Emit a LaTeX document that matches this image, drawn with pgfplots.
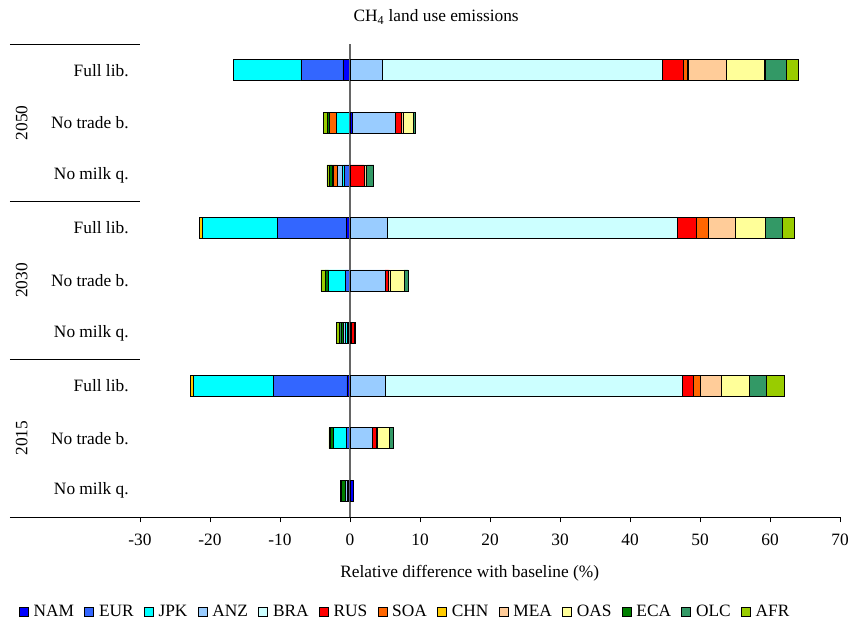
\documentclass[border=0pt]{standalone}
\usepackage{fontspec}
\setmainfont{Liberation Serif}
\usepackage{pgfplots}
\usepackage{pgfplotstable}
\pgfplotsset{compat=1.18}
\definecolor{cNAM}{HTML}{0000FF}
\definecolor{cEUR}{HTML}{3366FF}
\definecolor{cJPK}{HTML}{00FFFF}
\definecolor{cANZ}{HTML}{99CCFF}
\definecolor{cBRA}{HTML}{CCFFFF}
\definecolor{cRUS}{HTML}{FF0000}
\definecolor{cSOA}{HTML}{FF6600}
\definecolor{cCHN}{HTML}{FFCC00}
\definecolor{cMEA}{HTML}{FFCC99}
\definecolor{cOAS}{HTML}{FFFF99}
\definecolor{cECA}{HTML}{008000}
\definecolor{cOLC}{HTML}{339966}
\definecolor{cAFR}{HTML}{99CC00}

% rows: 1 = 2015 No milk q., 2 = 2015 No trade b., 3 = 2015 Full lib., 4..6 = 2030, 7..9 = 2050
\pgfplotstableread{
row NAM   EUR   JPK   ANZ  BRA  RUS SOA   CHN  MEA OAS ECA  OLC  AFR
1   0.5   -0.2  -0.2  -0.3 0    0   0     0    0   0   -0.5 -0.2 0
2   -0.05 -0.45 -1.9  3.2  0    0.5 0     0    0.2 1.7 -0.4 0.6  -0.2
3   -0.45 -10.5 -11.4 5.1  42.4 1.5 1.1   -0.4 2.9 4.1 0    2.4  2.6
4   -0.2  -0.2  -0.2  -0.3 0.2  0.4 0     0    0   0.2 -0.4 -0.2 -0.4
5   -0.05 -0.6  -2.4  5.0  0    0.5 0     0    0.2 2.0 -0.5 0.6  -0.6
6   -0.5  -9.9  -10.7 5.3  41.5 2.7 1.7   -0.4 3.9 4.2 0.1  2.4  1.7
7   -0.1  -0.7  -0.3  -0.7 0    2.0 -0.6  -0.1 0.3 0.1 -0.4 1.0  -0.4
8   0.3   0     -1.9  6.2  0    0.8 -1.05 0    0.3 1.5 -0.3 0.3  -0.5
9   -1.0  -6.0  -9.7  4.6  40.0 3.0 0.6   0.1  5.4 5.5 0.1  3.0  1.7
}\datatable

\pgfplotsset{
  base/.style={
    scale only axis, width=525pt, height=354.75pt,
    at={(0,0)}, anchor=south west,
    xmin=-30, xmax=70, ymin=0.5, ymax=9.5,
    xbar stacked, bar width=0.4, clip=false,
  },
  ser/.style={fill=#1, draw=black, line width=0.5pt},
}

\begin{document}
\begin{tikzpicture}[font=\fontsize{13}{15}\selectfont]
\useasboundingbox (-105pt,-79.5pt) rectangle (531.75pt,387.75pt);
\begin{axis}[base,
  axis x line*=bottom, axis y line*=left,
  y axis line style={draw=none},
  x axis line style={-, draw=black, line width=0.6pt},
  xtick={-30,-20,...,70}, xtick align=outside, major tick length=4pt,
  x tick style={black, line width=0.6pt},
  ytick={1,...,9},
  yticklabels={No milk q.,No trade b.,Full lib.,No milk q.,No trade b.,Full lib.,No milk q.,No trade b.,Full lib.},
  ytick style={draw=none},
  yticklabel style={xshift=-5pt},
  xticklabel style={yshift=-5pt},
  /pgf/number format/assume math mode=true,
  xlabel={Relative difference with baseline (\%)},
  xlabel style={at={(axis description cs:0.471,-0.118)}, anchor=center},
]
\addplot[ser=cNAM] table[y=row, x expr={min(\thisrow{NAM},0)}] {\datatable};
\addplot[ser=cEUR] table[y=row, x expr={min(\thisrow{EUR},0)}] {\datatable};
\addplot[ser=cJPK] table[y=row, x expr={min(\thisrow{JPK},0)}] {\datatable};
\addplot[ser=cANZ] table[y=row, x expr={min(\thisrow{ANZ},0)}] {\datatable};
\addplot[ser=cBRA] table[y=row, x expr={min(\thisrow{BRA},0)}] {\datatable};
\addplot[ser=cRUS] table[y=row, x expr={min(\thisrow{RUS},0)}] {\datatable};
\addplot[ser=cSOA] table[y=row, x expr={min(\thisrow{SOA},0)}] {\datatable};
\addplot[ser=cCHN] table[y=row, x expr={min(\thisrow{CHN},0)}] {\datatable};
\addplot[ser=cMEA] table[y=row, x expr={min(\thisrow{MEA},0)}] {\datatable};
\addplot[ser=cOAS] table[y=row, x expr={min(\thisrow{OAS},0)}] {\datatable};
\addplot[ser=cECA] table[y=row, x expr={min(\thisrow{ECA},0)}] {\datatable};
\addplot[ser=cOLC] table[y=row, x expr={min(\thisrow{OLC},0)}] {\datatable};
\addplot[ser=cAFR] table[y=row, x expr={min(\thisrow{AFR},0)}] {\datatable};
\draw[black, line width=0.6pt] (axis cs:-48.6,9.5) -- (axis cs:-30,9.5);
\draw[black, line width=0.6pt] (axis cs:-48.6,6.5) -- (axis cs:-30,6.5);
\draw[black, line width=0.6pt] (axis cs:-48.6,3.5) -- (axis cs:-30,3.5);
\draw[black, line width=0.6pt] (axis cs:-48.6,0.5) -- (axis cs:-30,0.5);
\node[rotate=90] at (axis cs:-46.9,8) {2050};
\node[rotate=90] at (axis cs:-46.9,5) {2030};
\node[rotate=90] at (axis cs:-46.9,2) {2015};
\node[font=\fontsize{13}{15}\selectfont] at (rel axis cs:0.423,1.057) {CH\textsubscript{4} land use emissions};
\end{axis}
\begin{axis}[base, hide axis,
  legend columns=13,
  legend style={at={(axis description cs:-0.179,-0.201)}, anchor=west, draw=none, fill=none,
    font=\fontsize{13}{15}\selectfont,
    /tikz/every even column/.append style={column sep=5.7pt}},
  legend image code/.code={\draw[#1] (0pt,-3.4pt) rectangle (6.8pt,3.4pt); \path (8.5pt,0pt);},
]
\addplot[ser=cNAM] table[y=row, x expr={max(\thisrow{NAM},0)}] {\datatable};
\addplot[ser=cEUR] table[y=row, x expr={max(\thisrow{EUR},0)}] {\datatable};
\addplot[ser=cJPK] table[y=row, x expr={max(\thisrow{JPK},0)}] {\datatable};
\addplot[ser=cANZ] table[y=row, x expr={max(\thisrow{ANZ},0)}] {\datatable};
\addplot[ser=cBRA] table[y=row, x expr={max(\thisrow{BRA},0)}] {\datatable};
\addplot[ser=cRUS] table[y=row, x expr={max(\thisrow{RUS},0)}] {\datatable};
\addplot[ser=cSOA] table[y=row, x expr={max(\thisrow{SOA},0)}] {\datatable};
\addplot[ser=cCHN] table[y=row, x expr={max(\thisrow{CHN},0)}] {\datatable};
\addplot[ser=cMEA] table[y=row, x expr={max(\thisrow{MEA},0)}] {\datatable};
\addplot[ser=cOAS] table[y=row, x expr={max(\thisrow{OAS},0)}] {\datatable};
\addplot[ser=cECA] table[y=row, x expr={max(\thisrow{ECA},0)}] {\datatable};
\addplot[ser=cOLC] table[y=row, x expr={max(\thisrow{OLC},0)}] {\datatable};
\addplot[ser=cAFR] table[y=row, x expr={max(\thisrow{AFR},0)}] {\datatable};
\legend{NAM,EUR,JPK,ANZ,BRA,RUS,SOA,CHN,MEA,OAS,ECA,OLC,AFR}
\draw[black!60, line width=0.8pt] (axis cs:0,0.5) -- (axis cs:0,9.5);
\end{axis}
\end{tikzpicture}
\end{document}
